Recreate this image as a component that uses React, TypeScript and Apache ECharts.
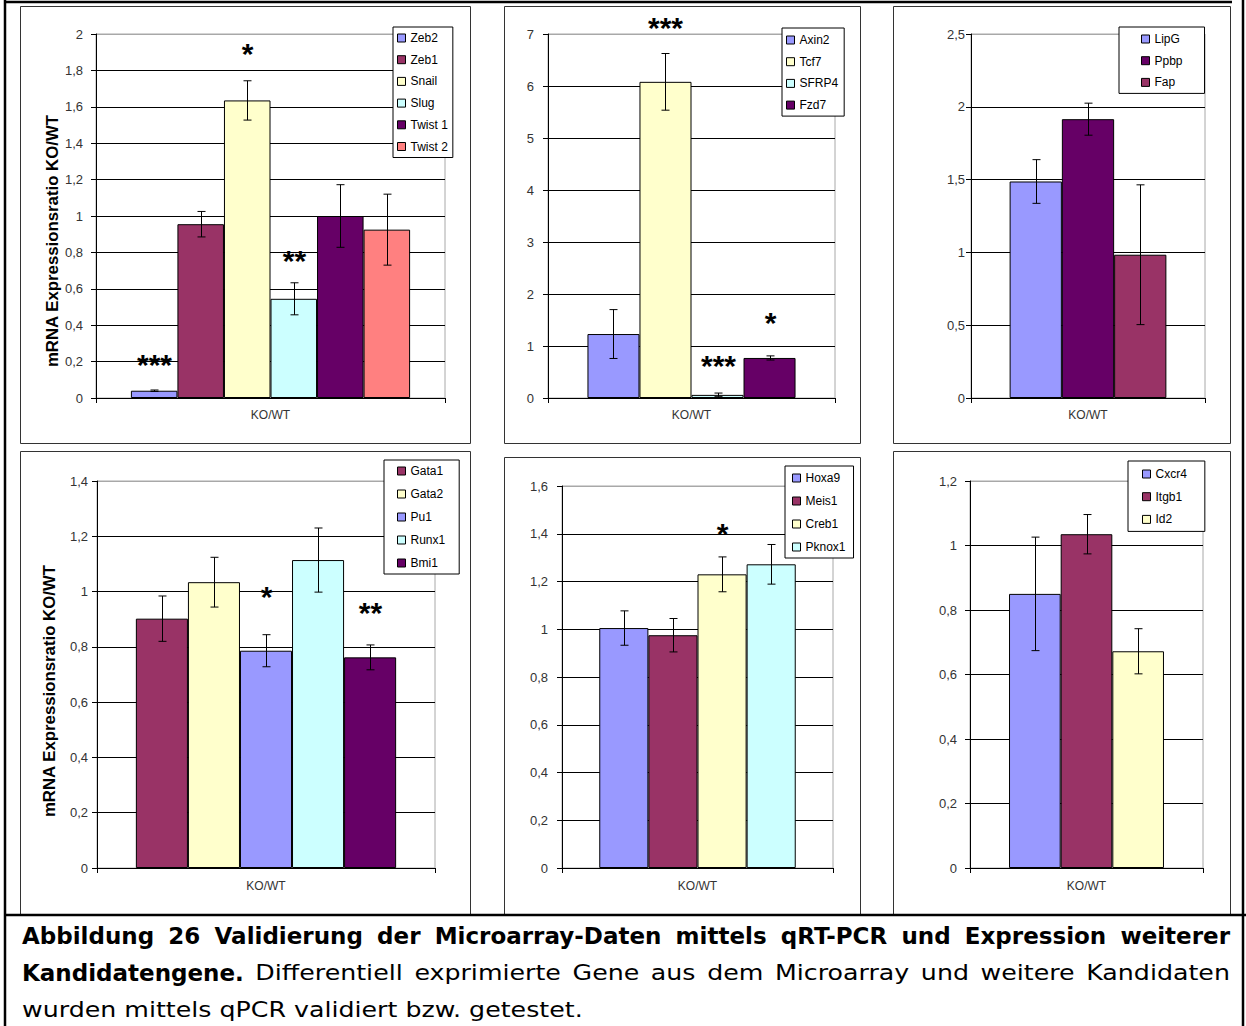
import { useEffect, useRef } from 'react';
import * as echarts from 'echarts';

const W = 1246;
const H = 1026;

// Excel chart palette used by every panel
const PERIWINKLE = '#9999ff';
const PLUM = '#993366';
const IVORY = '#ffffcc';
const TURQUOISE = '#ccffff';
const PURPLE = '#660066';
const CORAL = '#ff8080';

const CATEGORY = ['KO/WT'];
const Y_TITLE = 'mRNA Expressionsratio KO/WT';

// EMT transcription factors
const emtGenes = ['Zeb2', 'Zeb1', 'Snail', 'Slug', 'Twist 1', 'Twist 2'];
const emtRatio = [0.04, 0.955, 1.635, 0.545, 1.0, 0.925];
const emtSd = [0.004, 0.07, 0.108, 0.088, 0.172, 0.195];
const emtStars = ['***', '', '*', '**', '', ''];
const emtStarsAt = [0.21, 0, 1.92, 0.78, 0, 0];
const emtAxis = [0, 2, 0.2];

// Wnt pathway
const wntGenes = ['Axin2', 'Tcf7', 'SFRP4', 'Fzd7'];
const wntRatio = [1.23, 6.08, 0.06, 0.77];
const wntSd = [0.47, 0.545, 0.035, 0.04];
const wntStars = ['', '***', '***', '*'];
const wntStarsAt = [0, 7.22, 0.72, 1.54];
const wntAxis = [0, 7, 1];

// Stroma / secreted factors
const stromaGenes = ['LipG', 'Ppbp', 'Fap'];
const stromaRatio = [1.487, 1.915, 0.984];
const stromaSd = [0.15, 0.11, 0.48];
const stromaStars = ['', '', ''];
const stromaStarsAt = [0, 0, 0];
const stromaAxis = [0, 2.5, 0.5];

// Haematopoietic regulators
const hemaGenes = ['Gata1', 'Gata2', 'Pu1', 'Runx1', 'Bmi1'];
const hemaRatio = [0.902, 1.034, 0.786, 1.114, 0.762];
const hemaSd = [0.082, 0.09, 0.058, 0.116, 0.045];
const hemaStars = ['', '', '*', '', '**'];
const hemaStarsAt = [0, 0, 1.0, 0, 0.94];
const hemaAxis = [0, 1.4, 0.2];

// HOX cofactors
const hoxGenes = ['Hoxa9', 'Meis1', 'Creb1', 'Pknox1'];
const hoxRatio = [1.005, 0.975, 1.23, 1.272];
const hoxSd = [0.072, 0.07, 0.073, 0.083];
const hoxStars = ['', '', '*', ''];
const hoxStarsAt = [0, 0, 1.42, 0];
const hoxAxis = [0, 1.6, 0.2];

// Niche / adhesion
const nicheGenes = ['Cxcr4', 'Itgb1', 'Id2'];
const nicheRatio = [0.85, 1.035, 0.672];
const nicheSd = [0.176, 0.061, 0.07];
const nicheStars = ['', '', ''];
const nicheStarsAt = [0, 0, 0];
const nicheAxis = [0, 1.2, 0.2];

// Caption
const captionBold1 = 'Abbildung 26 Validierung der Microarray-Daten mittels qRT-PCR und Expression weiterer';
const captionBold2 = 'Kandidatengene.';
const captionText2 = 'Differentiell exprimierte Gene aus dem Microarray und weitere Kandidaten';
const captionText3 = 'wurden mittels qPCR validiert bzw. getestet.';

const FONT = '"Liberation Sans", Arial, Helvetica, sans-serif';
const CAPTION_FONT = '"DejaVu Sans", sans-serif';

type Panel = {
  genes: string[];
  ratio: number[];
  sd: number[];
  stars: string[];
  starsAt: number[];
  axis: number[];
  colors: string[];
  box: number[]; // plot area: left, top, width, height
  frame: number[]; // panel frame: x, y, w, h
  gap: number;
  yMargin: number;
  xMargin: number;
  legend: { left: number; top: number; padding: number[]; itemGap: number };
  title?: number[];
};

const panels: Panel[] = [
  {
    genes: emtGenes, ratio: emtRatio, sd: emtSd, stars: emtStars, starsAt: emtStarsAt, axis: emtAxis,
    colors: [PERIWINKLE, PLUM, IVORY, TURQUOISE, PURPLE, CORAL],
    box: [96, 34, 349, 364], frame: [20.5, 6.5, 450, 437], gap: 0.2, yMargin: 13, xMargin: 11,
    legend: { left: 393, top: 27, padding: [4, 5, 4, 4], itemGap: 7.7 },
    title: [52, 241],
  },
  {
    genes: wntGenes, ratio: wntRatio, sd: wntSd, stars: wntStars, starsAt: wntStarsAt, axis: wntAxis,
    colors: [PERIWINKLE, IVORY, TURQUOISE, PURPLE],
    box: [548, 34, 287, 364], frame: [504.5, 6.5, 356, 437], gap: 0.275, yMargin: 14, xMargin: 11,
    legend: { left: 782, top: 28, padding: [5, 6, 4, 4], itemGap: 7.7 },
  },
  {
    genes: stromaGenes, ratio: stromaRatio, sd: stromaSd, stars: stromaStars, starsAt: stromaStarsAt, axis: stromaAxis,
    colors: [PERIWINKLE, PURPLE, PLUM],
    box: [971, 34, 234, 364], frame: [893.5, 6.5, 337, 437], gap: 0.33, yMargin: 6, xMargin: 11,
    legend: { left: 1119, top: 27, padding: [5, 22, 4, 22], itemGap: 7.7 },
  },
  {
    genes: hemaGenes, ratio: hemaRatio, sd: hemaSd, stars: hemaStars, starsAt: hemaStarsAt, axis: hemaAxis,
    colors: [PLUM, IVORY, PERIWINKLE, TURQUOISE, PURPLE],
    box: [97, 481, 338, 387], frame: [20.5, 451.5, 450, 463.5], gap: 0.23, yMargin: 9, xMargin: 12,
    legend: { left: 384, top: 460, padding: [4, 14, 4, 13], itemGap: 9 },
    title: [49, 691],
  },
  {
    genes: hoxGenes, ratio: hoxRatio, sd: hoxSd, stars: hoxStars, starsAt: hoxStarsAt, axis: hoxAxis,
    colors: [PERIWINKLE, PLUM, IVORY, TURQUOISE],
    box: [562, 486, 271, 382], frame: [504.5, 457.5, 356, 457.5], gap: 0.275, yMargin: 14, xMargin: 12,
    legend: { left: 785, top: 466, padding: [5, 8, 4, 7], itemGap: 9 },
  },
  {
    genes: nicheGenes, ratio: nicheRatio, sd: nicheSd, stars: nicheStars, starsAt: nicheStarsAt, axis: nicheAxis,
    colors: [PERIWINKLE, PLUM, IVORY],
    box: [970, 481, 233, 387], frame: [893.5, 451.5, 337, 463.5], gap: 0.335, yMargin: 13, xMargin: 12,
    legend: { left: 1128, top: 461, padding: [6, 18, 5, 14], itemGap: 8.7 },
  },
];

const STAR_SIZE = 30;

function errorBarRenderer(p: Panel) {
  return (params: any, api: any) => {
    const k = params.dataIndex;
    const v = p.ratio[k];
    const e = p.sd[k];
    const n = p.genes.length;
    const band = api.size([1, 0])[0];
    const base = api.coord([0, 0]);
    const used = band * (1 - p.gap);
    const bw = used / n;
    const cx = Math.round(base[0] - used / 2 + bw * (k + 0.5)) + 0.5;
    const yTop = api.coord([0, v + e])[1];
    const yBot = api.coord([0, v - e])[1];
    const stroke = { stroke: '#000', lineWidth: 1 };
    const children: any[] = [
      { type: 'line', shape: { x1: cx, y1: yTop, x2: cx, y2: yBot }, style: stroke },
      { type: 'line', shape: { x1: cx - 4, y1: yTop, x2: cx + 4, y2: yTop }, style: stroke },
      { type: 'line', shape: { x1: cx - 4, y1: yBot, x2: cx + 4, y2: yBot }, style: stroke },
    ];
    if (p.stars[k]) {
      const sy = api.coord([0, p.starsAt[k]])[1] + STAR_SIZE * 0.15;
      children.push({
        type: 'text',
        x: cx,
        y: sy,
        style: {
          text: p.stars[k],
          fontSize: STAR_SIZE,
          fontWeight: 'bold',
          fontFamily: FONT,
          fill: '#000',
          align: 'center',
          verticalAlign: 'middle',
          textAlign: 'center',
          textVerticalAlign: 'middle',
        },
      });
    }
    return { type: 'group', children };
  };
}

function captionElements(): any[] {
  const ctx = document.createElement('canvas').getContext('2d') as CanvasRenderingContext2D;
  const regSize = 22;
  const boldSize = 23;
  const sizeOf = (bold: boolean) => (bold ? boldSize : regSize);
  const fontOf = (bold: boolean) => `${bold ? 'bold ' : ''}${sizeOf(bold)}px ${CAPTION_FONT}`;
  const measure = (t: string, bold: boolean) => {
    ctx.font = fontOf(bold);
    return ctx.measureText(t).width;
  };
  const left = 22;
  const right = 1230;
  const span = right - left;
  const regScale = 561 / measure(captionText3, false);
  const boldScale = 1.0;

  const text = (t: string, bold: boolean, x: number, y: number, sx: number) => ({
    type: 'text',
    x,
    y,
    scaleX: sx,
    z: 20,
    style: {
      text: t,
      fontSize: sizeOf(bold),
      fontWeight: bold ? 'bold' : 'normal',
      fontFamily: CAPTION_FONT,
      fill: '#000',
      align: 'left',
      verticalAlign: 'middle',
      textAlign: 'left',
      textVerticalAlign: 'middle',
    },
  });

  const justify = (runs: { t: string; bold: boolean }[], y: number) => {
    const words: { t: string; bold: boolean; w: number }[] = [];
    runs.forEach((r) =>
      r.t.split(' ').forEach((t) => words.push({ t, bold: r.bold, w: 0 }))
    );
    let sk = 1;
    words.forEach((w) => (w.w = measure(w.t, w.bold) * (w.bold ? boldScale : regScale)));
    let sum = words.reduce((a, w) => a + w.w, 0);
    const minGap = 8;
    if (sum + minGap * (words.length - 1) > span) {
      sk = (span - minGap * (words.length - 1)) / sum;
      sum *= sk;
    }
    const gap = (span - sum) / (words.length - 1);
    let x = left;
    return words.map((w) => {
      const el = text(w.t, w.bold, x, y, (w.bold ? boldScale : regScale) * sk);
      x += w.w * sk + gap;
      return el;
    });
  };

  return [
    ...justify([{ t: captionBold1, bold: true }], 936),
    ...justify(
      [
        { t: captionBold2, bold: true },
        { t: captionText2, bold: false },
      ],
      973
    ),
    text(captionText3, false, left, 1010, regScale),
  ];
}

function buildOption() {
  const fmt = (v: number) => String(Math.round(v * 100) / 100).replace('.', ',');

  const grid = panels.map((p) => ({
    left: p.box[0],
    top: p.box[1],
    width: p.box[2],
    height: p.box[3],
    show: true,
    borderColor: '#a8a8a8',
    borderWidth: 1,
    backgroundColor: 'transparent',
  }));

  const xAxis = panels.map((p, i) => ({
    type: 'category',
    gridIndex: i,
    data: CATEGORY,
    boundaryGap: true,
    axisLine: { show: true, onZero: false, lineStyle: { color: '#000', width: 1 } },
    axisTick: { show: true, length: 5, alignWithLabel: false, lineStyle: { color: '#000' } },
    axisLabel: { margin: p.xMargin, color: '#333', fontSize: 12, fontFamily: FONT },
    splitLine: { show: false },
  }));

  const yAxis = panels.map((p, i) => {
    const [min, max, step] = p.axis;
    const count = Math.round((max - min) / step) + 1;
    const lineColors = Array.from({ length: count }, (_, k) => (k === count - 1 ? '#a8a8a8' : '#000'));
    return {
      type: 'value',
      gridIndex: i,
      min,
      max,
      interval: step,
      axisLine: { show: true, lineStyle: { color: '#000', width: 1 } },
      axisTick: { show: true, length: 5, lineStyle: { color: '#000' } },
      axisLabel: {
        margin: p.yMargin,
        color: '#333',
        fontSize: 13,
        fontFamily: FONT,
        showMaxLabel: true,
        showMinLabel: true,
        formatter: fmt,
      },
      splitLine: { show: true, lineStyle: { color: lineColors, width: 1 } },
    };
  });

  const legend = panels.map((p) => ({
    data: p.genes,
    orient: 'vertical',
    left: p.legend.left,
    top: p.legend.top,
    padding: p.legend.padding,
    itemGap: p.legend.itemGap,
    itemWidth: 8,
    itemHeight: 8,
    icon: 'rect',
    selectedMode: false,
    borderColor: '#000',
    borderWidth: 1,
    borderRadius: 0,
    backgroundColor: '#fff',
    textStyle: { fontFamily: FONT, fontSize: 12, color: '#000', lineHeight: 14 },
    itemStyle: { borderColor: '#000', borderWidth: 1 },
  }));

  const series: any[] = [];
  panels.forEach((p, i) => {
    p.genes.forEach((g, k) => {
      series.push({
        type: 'bar',
        name: g,
        xAxisIndex: i,
        yAxisIndex: i,
        data: [p.ratio[k]],
        barGap: '0%',
        barCategoryGap: `${p.gap * 100}%`,
        itemStyle: { color: p.colors[k], borderColor: '#000', borderWidth: 1 },
        emphasis: { disabled: true },
        silent: true,
      });
    });
    series.push({
      type: 'custom',
      xAxisIndex: i,
      yAxisIndex: i,
      clip: false,
      silent: true,
      z: 5,
      data: p.ratio.map((v) => [0, v]),
      encode: { x: 0, y: 1 },
      renderItem: errorBarRenderer(p),
    });
  });

  const frames = panels.map((p) => ({
    type: 'rect',
    shape: { x: p.frame[0], y: p.frame[1], width: p.frame[2], height: p.frame[3] },
    style: { fill: 'none', stroke: '#333', lineWidth: 1 },
    z: 1,
  }));

  const titles = panels
    .filter((p) => p.title)
    .map((p) => ({
      type: 'text',
      x: (p.title as number[])[0],
      y: (p.title as number[])[1],
      rotation: Math.PI / 2,
      scaleX: 1.05,
      style: {
        text: Y_TITLE,
        fontSize: 16,
        fontWeight: 'bold',
        fontFamily: FONT,
        fill: '#000',
        align: 'center',
        verticalAlign: 'middle',
        textAlign: 'center',
        textVerticalAlign: 'middle',
      },
    }));

  const border = { stroke: '#000', lineWidth: 2.5 };
  const outer = [
    { type: 'line', shape: { x1: 4, y1: 2, x2: 1232, y2: 2 }, style: border, z: 3 },
    { type: 'line', shape: { x1: 5, y1: 0, x2: 5, y2: H }, style: border, z: 3 },
    { type: 'line', shape: { x1: 1243, y1: 0, x2: 1243, y2: H }, style: border, z: 3 },
    { type: 'line', shape: { x1: 4, y1: 915, x2: W, y2: 915 }, style: border, z: 3 },
  ];

  return {
    animation: false,
    backgroundColor: '#fff',
    grid,
    xAxis,
    yAxis,
    legend,
    series,
    graphic: [...frames, ...outer, ...titles, ...captionElements()],
  };
}

export default function App() {
  const ref = useRef<HTMLDivElement>(null);
  useEffect(() => {
    const el = ref.current as HTMLDivElement;
    const chart = echarts.init(el, undefined, { renderer: 'svg', width: W, height: H });
    chart.setOption(buildOption() as any);
    return () => chart.dispose();
  }, []);
  return (
    <div
      ref={ref}
      style={{ position: 'fixed', left: 0, top: 0, width: W, height: H, background: '#fff' }}
    />
  );
}
